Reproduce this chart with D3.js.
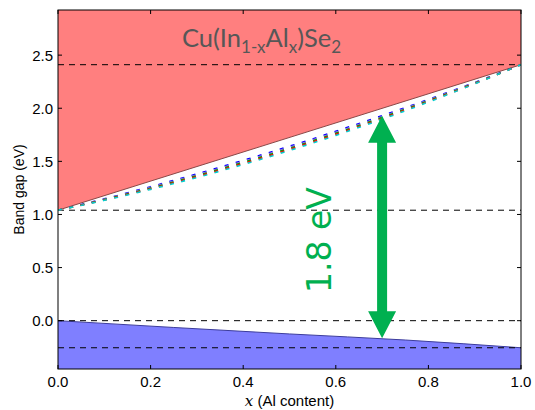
<!DOCTYPE html>
<html>
<head>
<meta charset="utf-8">
<script src="https://cdn.jsdelivr.net/npm/d3@7"></script>
<style>
  html, body { margin: 0; padding: 0; background: #ffffff; }
  svg { display: block; }
</style>
</head>
<body>
<svg id="chart" width="535" height="410"></svg>
<script>
// Al content sampled along the alloy
const xs = [0, 0.1, 0.2, 0.3, 0.4, 0.5, 0.6, 0.7, 0.8, 0.9, 1.0];

// Conduction band minimum for the different calculations (eV)
const cbmBlue   = [1.04, 1.147, 1.261, 1.382, 1.509, 1.642, 1.783, 1.930, 2.083, 2.243, 2.41];
const cbmPurple = [1.04, 1.144, 1.255, 1.373, 1.499, 1.632, 1.773, 1.921, 2.077, 2.240, 2.41];
const cbmGreen  = [1.04, 1.140, 1.248, 1.365, 1.490, 1.622, 1.764, 1.913, 2.070, 2.236, 2.41];
const cbmRed    = [1.04, 1.136, 1.242, 1.356, 1.480, 1.612, 1.754, 1.904, 2.064, 2.232, 2.41];
const cbmCyan   = [1.04, 1.133, 1.236, 1.348, 1.470, 1.602, 1.744, 1.896, 2.058, 2.229, 2.41];
const seriesColors = ["#0000ff", "#9a6ee0", "#00a000", "#ff0000", "#00d0d0"];

// Upper region (linear CBM) and lower region (VBM)
const upperX = [0, 1];
const upperE = [1.04, 2.41];
const lowerX = [0, 0.25, 0.5, 0.75, 1.0];
const lowerE = [0, -0.064, -0.125, -0.182, -0.255];

// Horizontal reference levels (eV)
const refLevels = [2.41, 1.04, 0.0, -0.255];

// Arrow annotation
const arrowX = 0.7;
const arrowTop = 1.93;
const arrowBottom = -0.165;
const arrowLabel = "1.8 eV";

// Axis ticks
const xTicks = [0, 0.2, 0.4, 0.6, 0.8, 1.0];
const yTicks = [0, 0.5, 1.0, 1.5, 2.0, 2.5];
const xDomain = [0, 1];
const yDomain = [-0.455, 2.925];

const svg = d3.select("#chart");
const pLeft = 58, pRight = 521, pTop = 10, pBottom = 369;

const x = d3.scaleLinear().domain(xDomain).range([pLeft, pRight]);
const y = d3.scaleLinear().domain(yDomain).range([pBottom, pTop]);

const clipId = "plotclip";
svg.append("defs").append("clipPath").attr("id", clipId)
  .append("rect").attr("x", pLeft).attr("y", pTop)
  .attr("width", pRight - pLeft).attr("height", pBottom - pTop);

const plot = svg.append("g").attr("clip-path", `url(#${clipId})`);

// Red region: above the conduction band edge
const upperPts = upperX.map((v, i) => [v, upperE[i]]);
plot.append("path")
  .datum(upperPts)
  .attr("fill", "#ff7f7f")
  .attr("d", d3.area().x(d => x(d[0])).y0(y(yDomain[1])).y1(d => y(d[1])));
plot.append("path")
  .datum(upperPts)
  .attr("fill", "none")
  .attr("stroke", "#8a4848")
  .attr("stroke-width", 1)
  .attr("d", d3.line().x(d => x(d[0])).y(d => y(d[1])));

// Blue region: below the valence band edge
const lowerPts = lowerX.map((v, i) => [v, lowerE[i]]);
plot.append("path")
  .datum(lowerPts)
  .attr("fill", "#7f7fff")
  .attr("d", d3.area().x(d => x(d[0])).y0(y(yDomain[0])).y1(d => y(d[1])).curve(d3.curveMonotoneX));
plot.append("path")
  .datum(lowerPts)
  .attr("fill", "none")
  .attr("stroke", "#3c3c9c")
  .attr("stroke-width", 1)
  .attr("d", d3.line().x(d => x(d[0])).y(d => y(d[1])).curve(d3.curveMonotoneX));

// Dashed reference levels
plot.selectAll("line.ref")
  .data(refLevels)
  .join("line")
  .attr("class", "ref")
  .attr("x1", pLeft).attr("x2", pRight)
  .attr("y1", d => y(d)).attr("y2", d => y(d))
  .attr("stroke", "#000")
  .attr("stroke-width", 1)
  .attr("stroke-dasharray", "6,5");

// Dotted CBM curves
const allSeries = [cbmBlue, cbmPurple, cbmGreen, cbmRed, cbmCyan];
const curveLine = d3.line().x(d => x(d[0])).y(d => y(d[1])).curve(d3.curveMonotoneX);
allSeries.forEach((vals, i) => {
  plot.append("path")
    .datum(xs.map((v, j) => [v, vals[j]]))
    .attr("fill", "none")
    .attr("stroke", seriesColors[i])
    .attr("stroke-width", 1.6)
    .attr("stroke-dasharray", "4,7.5")
    .attr("d", curveLine);
});

// Frame
svg.append("rect")
  .attr("x", pLeft).attr("y", pTop)
  .attr("width", pRight - pLeft).attr("height", pBottom - pTop)
  .attr("fill", "none").attr("stroke", "#000").attr("stroke-width", 1);

// Inward ticks on all four sides
const tickLen = 4;
const tickG = svg.append("g").attr("stroke", "#000").attr("stroke-width", 1);
xTicks.forEach(t => {
  tickG.append("line").attr("x1", x(t)).attr("x2", x(t)).attr("y1", pBottom).attr("y2", pBottom - tickLen);
  tickG.append("line").attr("x1", x(t)).attr("x2", x(t)).attr("y1", pTop).attr("y2", pTop + tickLen);
});
yTicks.forEach(t => {
  tickG.append("line").attr("x1", pLeft).attr("x2", pLeft + tickLen).attr("y1", y(t)).attr("y2", y(t));
  tickG.append("line").attr("x1", pRight).attr("x2", pRight - tickLen).attr("y1", y(t)).attr("y2", y(t));
});

const axisFont = "'Liberation Sans', Arial, Helvetica, sans-serif";

// Tick labels
svg.append("g").selectAll("text")
  .data(xTicks).join("text")
  .attr("x", d => x(d)).attr("y", pBottom + 18)
  .attr("text-anchor", "middle")
  .attr("font-family", axisFont).attr("font-size", 15)
  .text(d => d3.format(".1f")(d));
svg.append("g").selectAll("text")
  .data(yTicks).join("text")
  .attr("x", pLeft - 5).attr("y", d => y(d) + 5.5)
  .attr("text-anchor", "end")
  .attr("font-family", axisFont).attr("font-size", 15)
  .text(d => d3.format(".1f")(d));

// Axis titles
const xl = svg.append("text")
  .attr("x", (pLeft + pRight) / 2).attr("y", 406)
  .attr("text-anchor", "middle")
  .attr("font-family", axisFont).attr("font-size", 15);
xl.append("tspan").attr("font-style", "italic").attr("font-family", "'DejaVu Serif', serif").text("x");
xl.append("tspan").text(" (Al content)");

svg.append("text")
  .attr("transform", `translate(24,${(pTop + pBottom) / 2}) rotate(-90)`)
  .attr("text-anchor", "middle")
  .attr("font-family", axisFont).attr("font-size", 14)
  .text("Band gap (eV)");

// Compound label
const title = svg.append("text")
  .attr("x", 182).attr("y", 47)
  .attr("font-family", "Lato, 'Open Sans', sans-serif")
  .attr("font-size", 25.5)
  .attr("fill", "#575757");
title.append("tspan").text("Cu(In");
title.append("tspan").attr("font-size", 17).attr("dy", 6).text("1-x");
title.append("tspan").attr("dy", -6).text("Al");
title.append("tspan").attr("font-size", 17).attr("dy", 6).text("x");
title.append("tspan").attr("dy", -6).text(")Se");
title.append("tspan").attr("font-size", 17).attr("dy", 6).text("2");

// Double-headed arrow
const green = "#00b050";
const ax = x(arrowX), yTop = y(arrowTop), yBot = y(arrowBottom);
const headL = 27, headW = 14, shaftW = 5;
const arrowPath = d3.path();
arrowPath.moveTo(ax, yTop);
arrowPath.lineTo(ax + headW, yTop + headL);
arrowPath.lineTo(ax + shaftW, yTop + headL);
arrowPath.lineTo(ax + shaftW, yBot - headL);
arrowPath.lineTo(ax + headW, yBot - headL);
arrowPath.lineTo(ax, yBot);
arrowPath.lineTo(ax - headW, yBot - headL);
arrowPath.lineTo(ax - shaftW, yBot - headL);
arrowPath.lineTo(ax - shaftW, yTop + headL);
arrowPath.lineTo(ax - headW, yTop + headL);
arrowPath.closePath();
svg.append("path").attr("d", arrowPath.toString()).attr("fill", green);

svg.append("text")
  .attr("transform", `translate(331,240) rotate(-90)`)
  .attr("text-anchor", "middle")
  .attr("font-family", "'DejaVu Sans', sans-serif")
  .attr("font-size", 33)
  .attr("fill", green)
  .text(arrowLabel);
</script>
</body>
</html>
